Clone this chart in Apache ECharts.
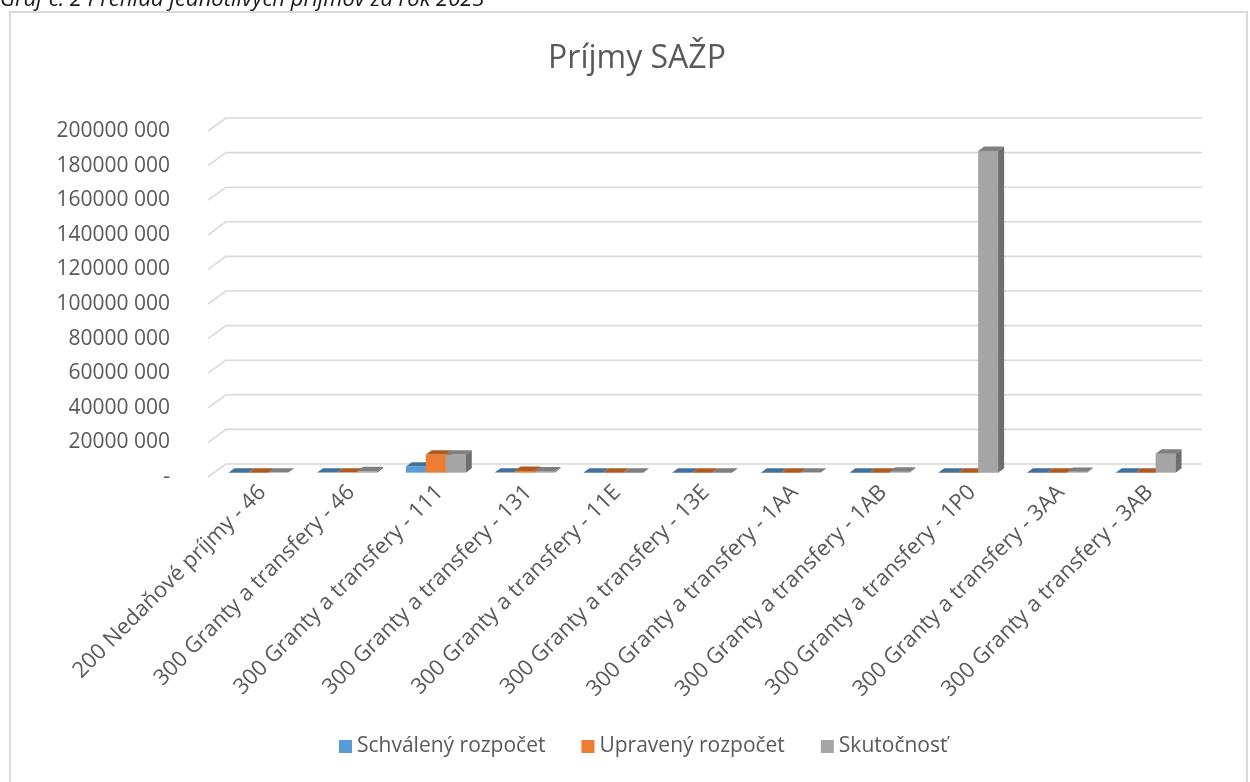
<!DOCTYPE html>
<html>
<head>
<meta charset="utf-8">
<script src="https://cdn.jsdelivr.net/npm/echarts@6/dist/echarts.min.js"></script>
<style>
html,body{margin:0;padding:0;background:#fff;}
#c{width:1250px;height:782px;}
</style>
</head>
<body>
<div id="c"></div>
<script>
// ---- data ----
const categories = [
  '200 Nedaňové príjmy - 46',
  '300 Granty a transfery - 46',
  '300 Granty a transfery - 111',
  '300 Granty a transfery - 131',
  '300 Granty a transfery - 11E',
  '300 Granty a transfery - 13E',
  '300 Granty a transfery - 1AA',
  '300 Granty a transfery - 1AB',
  '300 Granty a transfery - 1P0',
  '300 Granty a transfery - 3AA',
  '300 Granty a transfery - 3AB'
];
const seriesNames = ['Schválený rozpočet', 'Upravený rozpočet', 'Skutočnosť'];
const schvaleny = [20000, 30000, 3500000, 50000, 0, 0, 0, 0, 0, 0, 0];
const upraveny  = [20000, 30000, 10500000, 1000000, 0, 0, 0, 0, 0, 0, 0];
const skutocnost = [100000, 900000, 10500000, 700000, 0, 0, 100000, 600000, 186000000, 500000, 11000000];
const yTicks = [0, 20000000, 40000000, 60000000, 80000000, 100000000, 120000000, 140000000, 160000000, 180000000, 200000000];

const colors = ['#5B9BD5', '#ED7D31', '#A5A5A5'];
const topColors = ['#41719C', '#AE5A21', '#7F7F7F'];
const sideColors = ['#3F6A92', '#A3531E', '#6E6E6E'];

// depth of floor (front -> back)
const DX = 18, DY = -13;

function fmt(v) {
  if (v === 0) return '-';
  return Math.floor(v / 1000) + ' 000';
}

function barRender(sIdx) {
  return function (params, api) {
    const cat = api.value(0), v = api.value(1);
    const p0 = api.coord([cat, 0]);
    const p1 = api.coord([cat, v]);
    const band = api.size([1, 0])[0];
    const w = band * 0.225;
    const ox = DX / 3, oy = DY / 3;
    const xl = p0[0] + ox + (sIdx - 1.5) * w;
    const yb = p0[1] + oy;
    const yt = p1[1] + oy;
    const children = [];
    if (yb - yt > 0.3) {
      children.push({
        type: 'rect',
        shape: { x: xl, y: yt, width: w, height: yb - yt },
        style: { fill: colors[sIdx] }
      });
      children.push({
        type: 'polygon',
        shape: { points: [[xl + w, yt], [xl + w + ox, yt + oy], [xl + w + ox, yb + oy], [xl + w, yb]] },
        style: { fill: sideColors[sIdx] }
      });
    }
    children.push({
      type: 'polygon',
      shape: { points: [[xl, yt], [xl + w, yt], [xl + w + ox, yt + oy], [xl + ox, yt + oy]] },
      style: { fill: topColors[sIdx] }
    });
    return { type: 'group', children: children };
  };
}

function gridRender(params, api) {
  const t = api.value(0);
  const cs = params.coordSys;
  const p = api.coord([0, t]);
  const y = p[1];
  const x0 = cs.x;
  return {
    type: 'polyline',
    shape: { points: [[x0, y], [x0 + DX, y + DY], [x0 + cs.width + DX, y + DY]] },
    style: { stroke: '#D9D9D9', lineWidth: 1.6, fill: null }
  };
}

const seriesData = [schvaleny, upraveny, skutocnost];

const chart = echarts.init(document.getElementById('c'));
const fontFam = '"Open Sans", "Noto Sans", sans-serif';

chart.setOption({
  animation: false,
  textStyle: { fontFamily: fontFam },
  title: {
    text: 'Príjmy SAŽP',
    left: 632, top: 38, textAlign: 'center',
    textStyle: { fontSize: 32, fontWeight: 'normal', color: '#595959', fontFamily: fontFam }
  },
  graphic: [
    {
      type: 'rect', shape: { x: 10, y: 12, width: 1237, height: 790 },
      style: { fill: null, stroke: '#D9D9D9', lineWidth: 2 }, z: -1
    },
    {
      type: 'text', left: 0, top: -11,
      style: { text: 'Graf č. 2 Prehľad jednotlivých príjmov za rok 2023', fontSize: 22, fontStyle: 'italic', fill: '#1a1a1a', fontFamily: fontFam }
    }
  ],
  legend: {
    bottom: 20, left: 334,
    itemWidth: 13, itemHeight: 13, itemGap: 36,
    icon: 'rect',
    textStyle: { fontSize: 21, color: '#595959', fontFamily: fontFam },
    data: seriesNames
  },
  grid: [
    { left: 208, right: 66, top: 131, bottom: 305 },
    { left: 218, right: 56, top: 131, bottom: 305 }
  ],
  xAxis: [
    {
      type: 'category', data: categories, gridIndex: 0,
      axisLine: { show: false }, axisTick: { show: false }, axisLabel: { show: false }
    },
    {
      type: 'category', data: categories, gridIndex: 1,
      axisLine: { show: false }, axisTick: { show: false },
      axisLabel: { rotate: 45, interval: 0, fontSize: 22, color: '#595959', margin: 12, fontFamily: fontFam }
    }
  ],
  yAxis: [
    {
      type: 'value', min: 0, max: 200000000, interval: 20000000, gridIndex: 0,
      splitLine: { show: false }, axisLine: { show: false }, axisTick: { show: false },
      axisLabel: { formatter: fmt, fontSize: 21, color: '#595959', margin: 38, fontFamily: fontFam }
    },
    {
      type: 'value', min: 0, max: 200000000, gridIndex: 1, show: false
    }
  ],
  series: [
    {
      type: 'custom', name: '_grid', xAxisIndex: 0, yAxisIndex: 0, silent: true,
      renderItem: gridRender, data: yTicks.map(t => [t]), encode: { y: 0 }, z: 1
    }
  ].concat(seriesData.map((arr, i) => ({
    type: 'custom', name: seriesNames[i], xAxisIndex: 0, yAxisIndex: 0,
    itemStyle: { color: colors[i] },
    renderItem: barRender(i),
    encode: { x: 0, y: 1 },
    data: arr.map((v, k) => [k, v]),
    z: 2
  })))
});
</script>
</body>
</html>
